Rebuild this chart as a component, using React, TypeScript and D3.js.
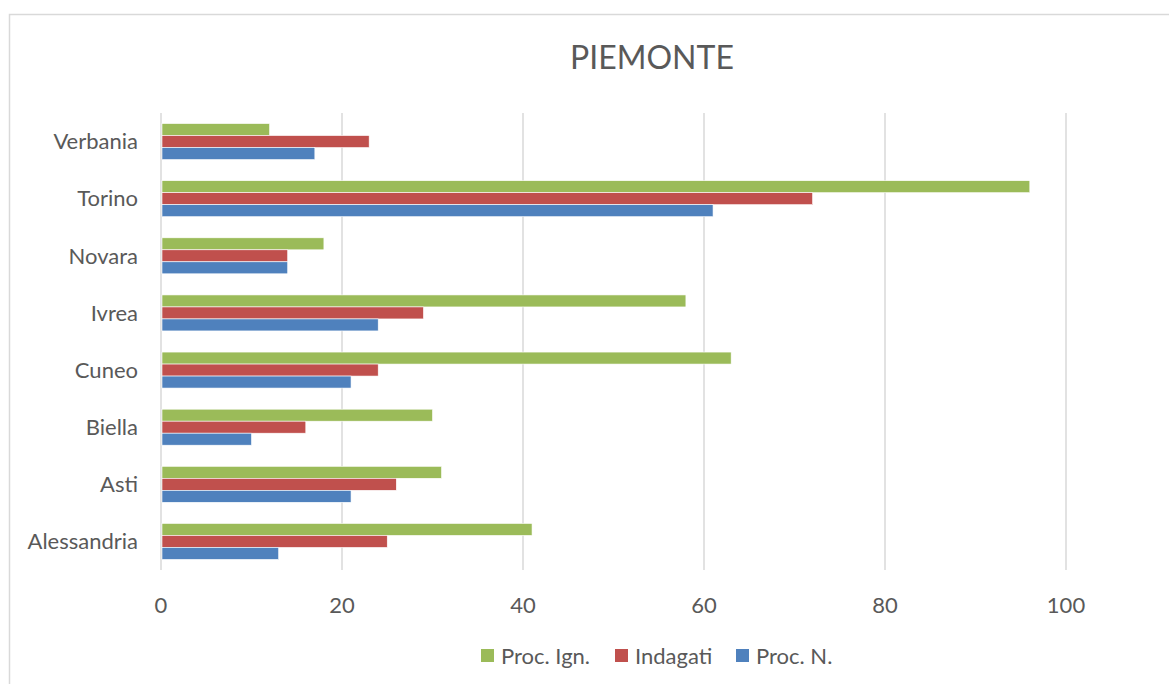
import React, { useEffect, useRef } from 'react';
import * as d3 from 'd3';

const categories = ['Alessandria', 'Asti', 'Biella', 'Cuneo', 'Ivrea', 'Novara', 'Torino', 'Verbania'];
const seriesNames = ['Proc. Ign.', 'Indagati', 'Proc. N.'];
const procIgn = [41, 31, 30, 63, 58, 18, 96, 12];
const indagati = [25, 26, 16, 24, 29, 14, 72, 23];
const procN = [13, 21, 10, 21, 24, 14, 61, 17];
const xTicks = [0, 20, 40, 60, 80, 100];
const colors = ['#9BBB59', '#C0504D', '#4F81BD'];

const App = () => {
  const ref = useRef<SVGSVGElement | null>(null);

  useEffect(() => {
    if (!ref.current) return;
    const W = 1169;
    const H = 684;
    const svg = d3.select(ref.current);
    svg.selectAll('*').remove();
    const font = 'Lato, "Open Sans", sans-serif';
    const textColor = '#595959';

    // chart border
    svg.append('rect')
      .attr('x', 9.5).attr('y', 14.5)
      .attr('width', W + 10).attr('height', H + 10)
      .attr('fill', '#fff').attr('stroke', '#d9d9d9').attr('stroke-width', 1.5);

    const left = 161;
    const right = 1066;
    const top = 113;
    const bottom = 570;

    const x = d3.scaleLinear().domain([0, 100]).range([left, right]);
    // categories drawn bottom-up like Excel
    const y = d3.scaleBand<string>().domain([...categories].reverse()).range([top, bottom]).paddingInner(0.37).paddingOuter(0.185);
    const inner = d3.scaleBand<string>().domain(seriesNames).range([0, y.bandwidth()]);

    // title
    svg.append('text')
      .attr('x', 652).attr('y', 69)
      .attr('text-anchor', 'middle')
      .attr('font-family', font).attr('font-size', 32)
      .attr('fill', textColor)
      .text('PIEMONTE');

    // gridlines
    svg.append('g').selectAll('line').data(xTicks).enter().append('line')
      .attr('x1', d => x(d)).attr('x2', d => x(d))
      .attr('y1', top).attr('y2', bottom)
      .attr('stroke', '#d9d9d9').attr('stroke-width', 1.5);

    const values = [procIgn, indagati, procN];
    seriesNames.forEach((name, si) => {
      svg.append('g').selectAll('rect').data(categories).enter().append('rect')
        .attr('x', x(0) + 1)
        .attr('y', c => (y(c) as number) + (inner(name) as number))
        .attr('width', (c, i) => x(values[si][i]) - x(0) - 1)
        .attr('height', inner.bandwidth())
        .attr('fill', colors[si])
        .attr('stroke', '#fff').attr('stroke-width', 0.6);
    });

    // category labels
    svg.append('g').selectAll('text').data(categories).enter().append('text')
      .attr('x', 138)
      .attr('y', c => (y(c) as number) + y.bandwidth() / 2)
      .attr('dy', '0.35em')
      .attr('text-anchor', 'end')
      .attr('font-family', font).attr('font-size', 22)
      .attr('fill', textColor)
      .text(c => c);

    // x tick labels
    svg.append('g').selectAll('text').data(xTicks).enter().append('text')
      .attr('x', d => x(d))
      .attr('y', 605)
      .attr('dy', '0.35em')
      .attr('text-anchor', 'middle')
      .attr('font-family', font).attr('font-size', 22)
      .attr('fill', textColor)
      .text(d => String(d));

    // legend
    const legendX = [481, 615, 736];
    seriesNames.forEach((name, i) => {
      const g = svg.append('g').attr('transform', `translate(${legendX[i]},656)`);
      g.append('rect').attr('x', 0).attr('y', -7).attr('width', 13).attr('height', 13).attr('fill', colors[i]);
      g.append('text').attr('x', 20).attr('y', 0).attr('dy', '0.35em')
        .attr('font-family', font).attr('font-size', 22)
        .attr('fill', textColor)
        .text(name);
    });
  }, []);

  return (
    <svg ref={ref} width={1169} height={684}
      style={{ position: 'absolute', left: 0, top: 0, display: 'block' }} />
  );
};

export default App;
